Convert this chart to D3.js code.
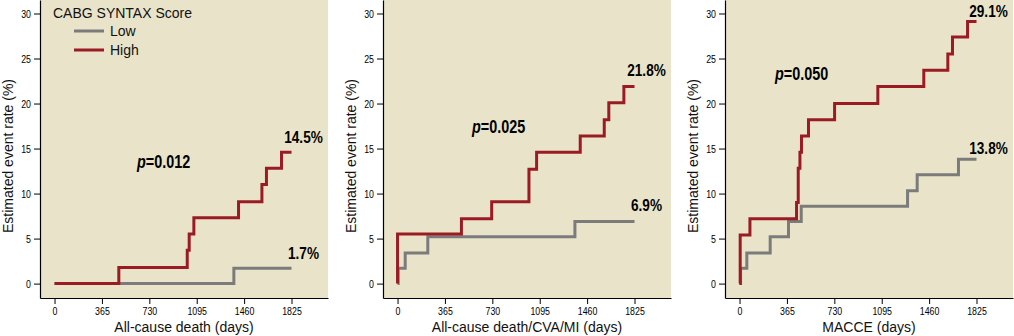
<!DOCTYPE html>
<html>
<head>
<meta charset="utf-8">
<script src="https://cdn.jsdelivr.net/npm/d3@7"></script>
<style>
    body { margin: 0; background: #ffffff; }
    svg { display: block; }
    .tick text { font-family: "Liberation Sans", Arial, sans-serif; font-size: 11px; fill: #000; }
    .axisTitle { font-family: "Liberation Sans", Arial, sans-serif; font-size: 14px; fill: #111; }
    .endLabel { font-family: "Liberation Sans", Arial, sans-serif; font-size: 17px; font-weight: bold; fill: #000; }
    .pLabel { font-family: "Liberation Sans", Arial, sans-serif; font-size: 18px; font-weight: bold; fill: #000; }
    .legendText { font-family: "Liberation Sans", Arial, sans-serif; font-size: 14px; fill: #111; }
</style>
</head>
<body>
<div id="chart"></div>
<script>
/***********************************************************
 * Data: Kaplan-Meier steps, [days, rate %]
 * *********************************************************
 */
let dayTicks = [0, 365, 730, 1095, 1460, 1825];
let rateTicks = [0, 5, 10, 15, 20, 25, 30];

let deathLow = [[0, 0], [1381, 1.7], [1825, 1.7]];
let deathHigh = [[0, 0], [495, 1.8], [1022, 3.7], [1037, 5.5], [1073, 7.3], [1417, 9.1],
    [1597, 11.0], [1632, 12.8], [1748, 14.6], [1825, 14.6]];

let compositeLow = [[0, 0], [5, 1.7], [59, 3.4], [233, 5.2], [1366, 6.9], [1825, 6.9]];
let compositeHigh = [[0, 0], [0, 5.5], [492, 7.2], [725, 9.1], [1012, 12.7], [1071, 14.6],
    [1407, 16.4], [1592, 18.2], [1627, 20.1], [1743, 21.9], [1825, 21.9]];

let macceLow = [[0, 0], [8, 1.7], [56, 3.4], [236, 5.2], [377, 6.9], [475, 8.6], [1294, 10.3],
    [1368, 12.1], [1686, 13.8], [1825, 13.8]];
let macceHigh = [[0, 0], [5, 5.4], [80, 7.2], [439, 9.0], [452, 12.8], [465, 14.6], [477, 16.4],
    [531, 18.2], [732, 20.0], [1065, 21.9], [1419, 23.7], [1604, 25.5], [1640, 27.4], [1756, 29.1], [1825, 29.1]];

let endpointNames = ["All-cause death (days)", "All-cause death/CVA/MI (days)", "MACCE (days)"];
let lowLabels = ["1.7%", "6.9%", "13.8%"];
let highLabels = ["14.5%", "21.8%", "29.1%"];
let pValues = ["=0.012", "=0.025", "=0.050"];
let legendTitle = "CABG SYNTAX Score";
let seriesNames = ["Low", "High"];

/***********************************************************
 * Set up chart sizes
 * *********************************************************
 */
let svgWidth = 1014;
let svgHeight = 336;
let plotWidth = 288;
let plotHeight = 298;
let narrow = 0.8; // no condensed font installed, so squeeze horizontally

let panels = [
    { left: 40, low: deathLow, high: deathHigh, labelDy: -9, pAt: [635, 12.84] },
    { left: 383, low: compositeLow, high: compositeHigh, labelDy: -10, pAt: [574, 16.73] },
    { left: 725, low: macceLow, high: macceHigh, labelDy: -5, pAt: [273, 22.62] }
];

let colors = { bg: "#e9e4c9", low: "#7b7b7b", high: "#9b1b25" };

let svg = d3.select("#chart")
    .append("svg")
    .attr("width", svgWidth)
    .attr("height", svgHeight);

// put narrow text at (x, y)
function narrowText(parent, cls, x, y, anchor) {
    return parent.append("text")
        .attr("class", cls)
        .attr("text-anchor", anchor)
        .attr("transform", `translate(${x}, ${y}) scale(${narrow}, 1)`);
}

panels.forEach((panel, i) => {
    let xScale = d3.scaleLinear()
        .domain([-112, 2106])
        .range([panel.left, panel.left + plotWidth]);
    let yScale = d3.scaleLinear()
        .domain([-1.6, 31.5])
        .range([plotHeight, 0]);

    let g = svg.append("g");

    // plot background
    g.append("rect")
        .attr("x", panel.left)
        .attr("y", 0)
        .attr("width", plotWidth)
        .attr("height", plotHeight)
        .attr("fill", colors.bg);

    // axes
    let xAxis = g.append("g")
        .attr("transform", `translate(0, ${plotHeight})`)
        .call(d3.axisBottom(xScale).tickValues(dayTicks).tickFormat(d3.format("d"))
            .tickSize(6).tickSizeOuter(0).tickPadding(3));
    let yAxis = g.append("g")
        .attr("transform", `translate(${panel.left}, 0)`)
        .call(d3.axisLeft(yScale).tickValues(rateTicks).tickFormat(d3.format("d"))
            .tickSize(6).tickSizeOuter(0).tickPadding(3));
    [xAxis, yAxis].forEach(ax => {
        ax.select(".domain").attr("stroke", "#000").attr("stroke-width", 1.2);
        ax.selectAll(".tick line").attr("stroke", "#000");
    });
    xAxis.selectAll(".tick text").attr("transform", `scale(${narrow}, 1)`);
    yAxis.selectAll(".tick text")
        .attr("x", -9 / narrow)
        .attr("transform", `scale(${narrow}, 1)`);

    // axis titles
    g.append("text")
        .attr("class", "axisTitle")
        .attr("text-anchor", "middle")
        .attr("x", panel.left + plotWidth / 2)
        .attr("y", 332)
        .text(endpointNames[i]);

    g.append("text")
        .attr("class", "axisTitle")
        .attr("text-anchor", "middle")
        .attr("transform", `translate(${panel.left - 27}, 156) rotate(-90)`)
        .text("Estimated event rate (%)");

    // step curves, high drawn on top of low
    let line = d3.line()
        .x(d => xScale(d[0]))
        .y(d => yScale(d[1]))
        .curve(d3.curveStepAfter);

    g.append("path")
        .datum(panel.low)
        .attr("fill", "none")
        .attr("stroke", colors.low)
        .attr("stroke-width", 3)
        .attr("d", line);

    g.append("path")
        .datum(panel.high)
        .attr("fill", "none")
        .attr("stroke", colors.high)
        .attr("stroke-width", 3)
        .attr("d", line);

    // end-of-follow-up labels
    let lastLow = panel.low[panel.low.length - 1];
    let lastHigh = panel.high[panel.high.length - 1];
    narrowText(g, "endLabel", xScale(lastHigh[0]) + 12, yScale(lastHigh[1]) + panel.labelDy, "middle")
        .text(highLabels[i]);
    narrowText(g, "endLabel", xScale(lastLow[0]) + 12, yScale(lastLow[1]) + panel.labelDy, "middle")
        .text(lowLabels[i]);

    // p value
    let pText = narrowText(g, "pLabel", xScale(panel.pAt[0]), yScale(panel.pAt[1]), "start");
    pText.append("tspan").attr("font-style", "italic").text("p");
    pText.append("tspan").text(pValues[i]);
});

/***********************************************************
 * Legend (first panel only)
 * *********************************************************
 */
let legend = svg.append("g");
legend.append("text")
    .attr("class", "legendText")
    .attr("x", 53)
    .attr("y", 18)
    .text(legendTitle);

[colors.low, colors.high].forEach((c, i) => {
    let ly = 31 + i * 19;
    legend.append("line")
        .attr("x1", 74).attr("x2", 104)
        .attr("y1", ly).attr("y2", ly)
        .attr("stroke", c)
        .attr("stroke-width", 3);
    legend.append("text")
        .attr("class", "legendText")
        .attr("x", 110)
        .attr("y", ly + 5)
        .text(seriesNames[i]);
});
</script>
</body>
</html>
